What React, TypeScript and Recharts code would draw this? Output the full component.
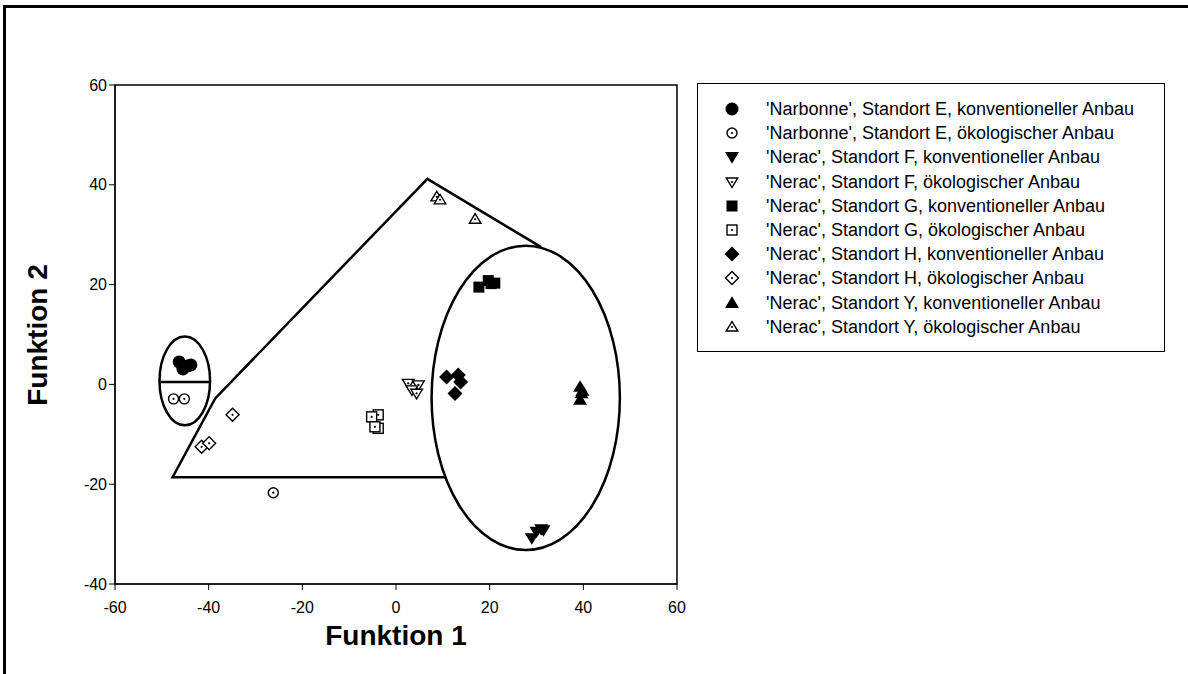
import React from "react";
import {
  ReferenceArea,
  Scatter,
  ScatterChart,
  XAxis,
  YAxis
} from "recharts";

type Pt = { x: number; y: number };

// discriminant scores per cultivar / site / farming system
const narbonneEKonv: Pt[] = [
  { x: -46.3, y: 4.5 },
  { x: -45.5, y: 3.1 },
  { x: -44.5, y: 3.7 },
  { x: -43.8, y: 3.9 }
];
const narbonneEOeko: Pt[] = [
  { x: -47.5, y: -2.9 },
  { x: -45.2, y: -2.9 },
  { x: -26.2, y: -21.7 }
];
const neracFKonv: Pt[] = [
  { x: 29, y: -30.8 },
  { x: 30, y: -29.5 },
  { x: 31, y: -29 },
  { x: 31.5, y: -29.2 }
];
const neracFOeko: Pt[] = [
  { x: 2.6, y: 0.2 },
  { x: 4.8, y: -0.1 },
  { x: 3.4, y: -1.1 },
  { x: 4.4, y: -1.8 }
];
const neracGKonv: Pt[] = [
  { x: 17.7, y: 19.5 },
  { x: 19.7, y: 20.8 },
  { x: 21.1, y: 20.3 },
  { x: 20.3, y: 20.2 }
];
const neracGOeko: Pt[] = [
  { x: -3.8, y: -6.1 },
  { x: -5.2, y: -6.5 },
  { x: -3.8, y: -8.8 },
  { x: -4.5, y: -8.5 }
];
const neracHKonv: Pt[] = [
  { x: 10.8, y: 1.5 },
  { x: 13.3, y: 1.9 },
  { x: 13.8, y: 0.5 },
  { x: 12.6, y: -1.8 }
];
const neracHOeko: Pt[] = [
  { x: -34.9, y: -6.1 },
  { x: -41.5, y: -12.5 },
  { x: -39.9, y: -11.8 }
];
const neracYKonv: Pt[] = [
  { x: 39.3, y: -0.5 },
  { x: 39.8, y: -1.3 },
  { x: 39.6, y: -1.8 },
  { x: 39.3, y: -3.1 }
];
const neracYOeko: Pt[] = [
  { x: 8.7, y: 37.6 },
  { x: 9.4, y: 37 },
  { x: 16.9, y: 33.1 }
];

// group outlines
const hullLine: Pt[] = [
  { x: 31, y: 27.5 },
  { x: 6.7, y: 41.2 },
  { x: -38.6, y: -2.8 },
  { x: -47.7, y: -18.6 },
  { x: 10.5, y: -18.6 }
];
const narbonneDivider: Pt[] = [
  { x: -50.3, y: 0.5 },
  { x: -39.9, y: 0.5 }
];
// [centre x, centre y, radius x, radius y]
const narbonneEllipse = [-45.1, 0.7, 5.4, 8.9];
const konvEllipse = [27.7, -2.7, 20.1, 30.5];

const xTicks = [-60, -40, -20, 0, 20, 40, 60];
const yTicks = [-40, -20, 0, 20, 40, 60];

const FONT = "'Liberation Sans', Arial, sans-serif";

type MarkerKind =
  | "circle"
  | "circleDot"
  | "down"
  | "downDot"
  | "square"
  | "squareDot"
  | "diamond"
  | "diamondDot"
  | "up"
  | "upDot";

function Marker({ kind, cx, cy }: { kind: MarkerKind; cx: number; cy: number }) {
  const open = kind.endsWith("Dot");
  const fill = open ? "#fff" : "#000";
  const sw = open ? 1.4 : 0;
  const base = kind.replace("Dot", "");
  let body: React.ReactNode = null;
  if (base === "circle") {
    body = <circle cx={cx} cy={cy} r={open ? 5 : 6.5} fill={fill} stroke="#000" strokeWidth={sw} />;
  } else if (base === "square") {
    const h = open ? 5 : 5.5;
    body = <rect x={cx - h} y={cy - h} width={2 * h} height={2 * h} fill={fill} stroke="#000" strokeWidth={sw} />;
  } else if (base === "diamond") {
    const d = open ? 6.5 : 7.5;
    body = (
      <polygon
        points={`${cx},${cy - d} ${cx + d},${cy} ${cx},${cy + d} ${cx - d},${cy}`}
        fill={fill}
        stroke="#000"
        strokeWidth={sw}
      />
    );
  } else {
    // triangles, pointing down or up
    const t = open ? 5.8 : 7;
    const s = base === "down" ? 1 : -1;
    body = (
      <polygon
        points={`${cx - t},${cy - s * t * 0.7} ${cx + t},${cy - s * t * 0.7} ${cx},${cy + s * t * 0.95}`}
        fill={fill}
        stroke="#000"
        strokeWidth={sw}
      />
    );
  }
  return (
    <g>
      {body}
      {open && <circle cx={cx} cy={cy} r={1.1} fill="#000" />}
    </g>
  );
}

const markerShape = (kind: MarkerKind) => (props: any) =>
  <Marker kind={kind} cx={props.cx} cy={props.cy} />;

const ellipseShape = (props: any) => (
  <ellipse
    cx={props.x + props.width / 2}
    cy={props.y + props.height / 2}
    rx={props.width / 2}
    ry={Math.abs(props.height) / 2}
    fill="none"
    stroke="#000"
    strokeWidth={2.5}
  />
);

const series: { name: string; kind: MarkerKind; data: Pt[] }[] = [
  { name: "'Narbonne', Standort E, konventioneller Anbau", kind: "circle", data: narbonneEKonv },
  { name: "'Narbonne', Standort E, ökologischer Anbau", kind: "circleDot", data: narbonneEOeko },
  { name: "'Nerac', Standort F, konventioneller Anbau", kind: "down", data: neracFKonv },
  { name: "'Nerac', Standort F, ökologischer Anbau", kind: "downDot", data: neracFOeko },
  { name: "'Nerac', Standort G, konventioneller Anbau", kind: "square", data: neracGKonv },
  { name: "'Nerac', Standort G, ökologischer Anbau", kind: "squareDot", data: neracGOeko },
  { name: "'Nerac', Standort H, konventioneller Anbau", kind: "diamond", data: neracHKonv },
  { name: "'Nerac', Standort H, ökologischer Anbau", kind: "diamondDot", data: neracHOeko },
  { name: "'Nerac', Standort Y, konventioneller Anbau", kind: "up", data: neracYKonv },
  { name: "'Nerac', Standort Y, ökologischer Anbau", kind: "upDot", data: neracYOeko }
];

function LegendBox() {
  return (
    <div
      style={{
        position: "absolute",
        left: 697,
        top: 83,
        width: 468,
        height: 269,
        border: "1.5px solid #000",
        boxSizing: "border-box",
        fontFamily: FONT,
        fontSize: 18
      }}
    >
      {series.map((s, i) => (
        <div key={s.name} style={{ position: "absolute", left: 0, top: 13 + i * 24.2, height: 24, width: 460 }}>
          <svg width={24} height={24} style={{ position: "absolute", left: 22, top: 0 }}>
            <Marker kind={s.kind} cx={12} cy={12} />
          </svg>
          <span style={{ position: "absolute", left: 68, top: 1, lineHeight: "22px", whiteSpace: "nowrap" }}>
            {s.name}
          </span>
        </div>
      ))}
    </div>
  );
}

export default function App() {
  return (
    <div style={{ position: "absolute", left: 0, top: 0, width: 1188, height: 674, background: "#fff", overflow: "hidden" }}>
      <div
        style={{
          position: "absolute",
          left: 3,
          top: 5,
          width: 1185,
          height: 680,
          borderTop: "3px solid #000",
          borderLeft: "3px solid #000"
        }}
      />
      <ScatterChart
        width={1188}
        height={674}
        margin={{ top: 85, right: 511, bottom: 30, left: 55 }}
        style={{ fontFamily: FONT }}
      >
        <XAxis
          type="number"
          dataKey="x"
          domain={[-60, 60]}
          ticks={xTicks}
          allowDataOverflow
          height={60}
          tickSize={6}
          tickMargin={12}
          stroke="#000"
          tick={{ fill: "#000", fontSize: 16 }}
        />
        <YAxis
          type="number"
          dataKey="y"
          domain={[-40, 60]}
          ticks={yTicks}
          allowDataOverflow
          width={60}
          tickSize={6}
          stroke="#000"
          tick={{ fill: "#000", fontSize: 16 }}
        />
        <ReferenceArea x1={-60} x2={60} y1={-40} y2={60} fill="none" stroke="#000" strokeWidth={1.5} fillOpacity={0} />
        <ReferenceArea
          x1={narbonneEllipse[0] - narbonneEllipse[2]}
          x2={narbonneEllipse[0] + narbonneEllipse[2]}
          y1={narbonneEllipse[1] - narbonneEllipse[3]}
          y2={narbonneEllipse[1] + narbonneEllipse[3]}
          shape={ellipseShape}
        />
        <ReferenceArea
          x1={konvEllipse[0] - konvEllipse[2]}
          x2={konvEllipse[0] + konvEllipse[2]}
          y1={konvEllipse[1] - konvEllipse[3]}
          y2={konvEllipse[1] + konvEllipse[3]}
          shape={ellipseShape}
        />
        <Scatter
          data={hullLine}
          line={{ stroke: "#000", strokeWidth: 2.5 }}
          lineType="joint"
          shape={() => <g />}
          isAnimationActive={false}
        />
        <Scatter
          data={narbonneDivider}
          line={{ stroke: "#000", strokeWidth: 2.5 }}
          lineType="joint"
          shape={() => <g />}
          isAnimationActive={false}
        />
        {series.map((s) => (
          <Scatter
            key={s.name}
            name={s.name}
            data={s.data}
            shape={markerShape(s.kind)}
            isAnimationActive={false}
          />
        ))}
      </ScatterChart>
      <div
        style={{
          position: "absolute",
          left: 396,
          top: 636,
          transform: "translate(-50%, -50%)",
          fontFamily: FONT,
          fontWeight: "bold",
          fontSize: 28,
          whiteSpace: "nowrap"
        }}
      >
        Funktion 1
      </div>
      <div
        style={{
          position: "absolute",
          left: 38,
          top: 335,
          transform: "translate(-50%, -50%) rotate(-90deg)",
          fontFamily: FONT,
          fontWeight: "bold",
          fontSize: 28,
          whiteSpace: "nowrap"
        }}
      >
        Funktion 2
      </div>
      <LegendBox />
    </div>
  );
}
